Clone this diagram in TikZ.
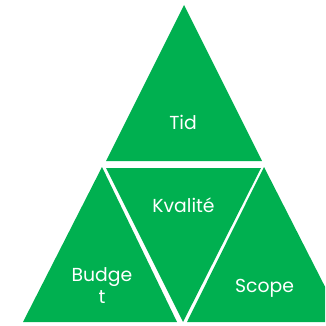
\documentclass[tikz,border=0pt]{standalone}
\usepackage{fontspec}
\newfontfamily\poppins{Poppins}
\definecolor{kgreen}{HTML}{00B050}
\begin{document}
\begin{tikzpicture}[x=1pt,y=-1pt,
  part/.style={fill=kgreen,draw=none},
  lbl/.style={text=white,font=\poppins\fontsize{18.8}{22}\selectfont,anchor=base,align=center,inner sep=0pt}]
\useasboundingbox (0,0) rectangle (325,326);
\clip (0,0) rectangle (325,326);
\filldraw[part] (184,5) -- (106,161) -- (262,161) -- cycle;
\filldraw[part] (102,167) -- (23,322) -- (177,322) -- cycle;
\filldraw[part] (106,168) -- (261,168) -- (183,322) -- cycle;
\filldraw[part] (264,167) -- (187,322) -- (343,322) -- cycle;

\node[lbl] (tid) at (183,129.5) {Tid};
\node[lbl] (kvalite) at (183.5,212) {Kvalité};
\node[lbl] (budget) at (102,303) {Budge\\t};
\node[lbl] (scope) at (264.5,292.5) {Scope};
\end{tikzpicture}
\end{document}
